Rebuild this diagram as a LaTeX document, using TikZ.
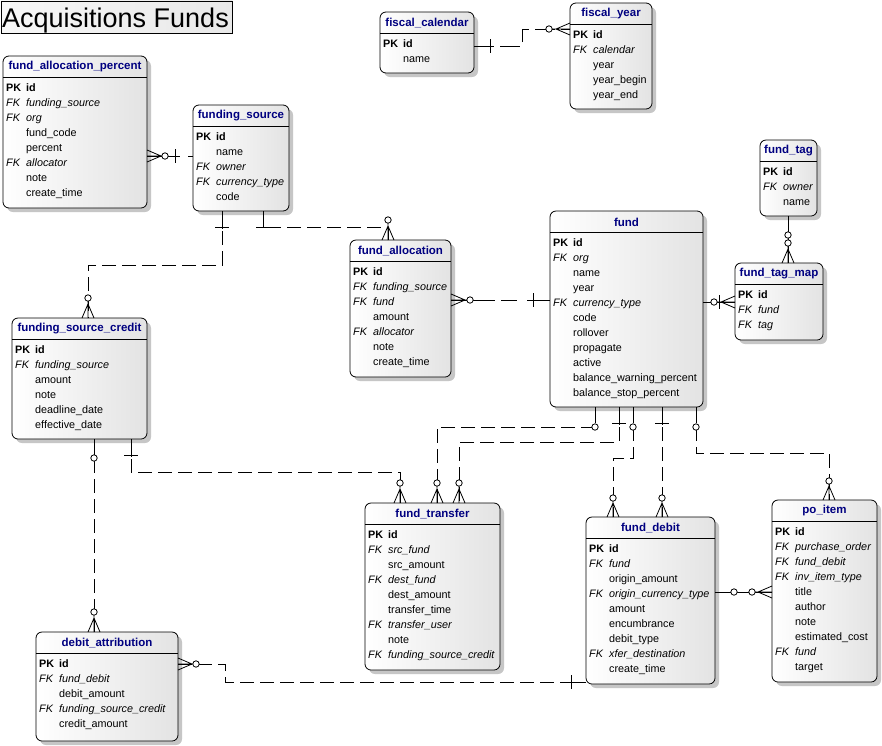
\documentclass[tikz,border=0pt]{standalone}
\usepackage{fontspec}
\setmainfont{Liberation Sans}
\usetikzlibrary{calc}
\definecolor{navy}{HTML}{000080}
\tikzset{
  entbox/.style={draw, line width=0.8pt, rounded corners=6pt, left color=white, right color=gray!22, anchor=north west, inner sep=0pt, outer sep=0pt},
  entshadow/.style={fill=gray!45, rounded corners=6pt},
  enttitle/.style={font=\fontsize{11.5}{13}\selectfont\bfseries, text=navy, inner sep=0pt},
  entrows/.style={anchor=north west, inner sep=0pt, font=\fontsize{10.8}{15}\selectfont},
  rel/.style={line width=0.8pt, dash pattern=on 14pt off 6pt},
  sol/.style={line width=0.8pt},
  ringst/.style={line width=0.8pt, fill=white},
}
\newcommand{\pkrow}[1]{\textbf{PK}&\textbf{#1}\\}
\newcommand{\fkrow}[1]{\textit{FK}&\textit{#1}\\}
\newcommand{\frow}[1]{&#1\\}
% name, x, y, w, h, title, rows
\newcommand{\entity}[7]{%
  \fill[entshadow] (#2+4,#3+4) rectangle ++(#4,#5);
  \node[entbox, minimum width=#4pt, minimum height=#5pt] (#1) at (#2,#3) {};
  \draw[sol] (#2,#3+21) -- ++(#4,0);
  \node[enttitle] (#1-t) at (#2+#4/2,#3+11) {#6};
  \node[entrows] (#1-b) at (#2+3,#3+25) {\begin{tabular}{@{}p{20pt}@{}l@{}}#7\end{tabular}};
}
\newcommand{\ringat}[2]{\draw[ringst] (#1,#2) circle[radius=3.2];}
\newcommand{\crowU}[2]{\draw[sol] (#1,#2-20) -- (#1,#2) (#1-6,#2) -- (#1,#2-14) -- (#1+6,#2);}
\newcommand{\crowL}[2]{\draw[sol] (#1-20,#2) -- (#1,#2) (#1,#2-6) -- (#1-14,#2) -- (#1,#2+6);}
\newcommand{\crowR}[2]{\draw[sol] (#1+20,#2) -- (#1,#2) (#1,#2-6) -- (#1+14,#2) -- (#1,#2+6);}
\newcommand{\hbarat}[2]{\draw[sol] (#1-7,#2) -- (#1+7,#2);}
\newcommand{\vbarat}[2]{\draw[sol] (#1,#2-7) -- (#1,#2+7);}
\begin{document}
\begin{tikzpicture}[x=1pt,y=-1pt]
\useasboundingbox (0,0) rectangle (882,745);
\fill[white] (0,0) rectangle (882,745);

% title
\node[draw, line width=0.8pt, left color=gray!6, right color=gray!18, anchor=north west, minimum width=231.5pt, minimum height=32.5pt, inner sep=0pt] (title) at (0.5,0.5) {};
\node[anchor=base west, inner sep=0pt, font=\fontsize{27}{30}\selectfont] (title-t) at (2,27) {Acquisitions Funds};

% entities (shadows + boxes)
\entity{fap}{3}{56}{144}{152}{fund\_allocation\_percent}{\pkrow{id}\fkrow{funding\_source}\fkrow{org}\frow{fund\_code}\frow{percent}\fkrow{allocator}\frow{note}\frow{create\_time}}
\entity{fs}{193}{105}{96}{106}{funding\_source}{\pkrow{id}\frow{name}\fkrow{owner}\fkrow{currency\_type}\frow{code}}
\entity{fcal}{380}{12}{94}{61}{fiscal\_calendar}{\pkrow{id}\frow{name}}
\entity{fyear}{570}{3}{82}{106}{fiscal\_year}{\pkrow{id}\fkrow{calendar}\frow{year}\frow{year\_begin}\frow{year\_end}}
\entity{ftag}{760}{140}{57}{76}{fund\_tag}{\pkrow{id}\fkrow{owner}\frow{name}}
\entity{ftm}{735}{263}{88}{77}{fund\_tag\_map}{\pkrow{id}\fkrow{fund}\fkrow{tag}}
\entity{fund}{550}{211}{153}{196}{fund}{\pkrow{id}\fkrow{org}\frow{name}\frow{year}\fkrow{currency\_type}\frow{code}\frow{rollover}\frow{propagate}\frow{active}\frow{balance\_warning\_percent}\frow{balance\_stop\_percent}}
\entity{fa}{350}{240}{101}{137}{fund\_allocation}{\pkrow{id}\fkrow{funding\_source}\fkrow{fund}\frow{amount}\fkrow{allocator}\frow{note}\frow{create\_time}}
\entity{fsc}{12}{318}{135}{121}{funding\_source\_credit}{\pkrow{id}\fkrow{funding\_source}\frow{amount}\frow{note}\frow{deadline\_date}\frow{effective\_date}}
\entity{ft}{365}{503}{135}{167}{fund\_transfer}{\pkrow{id}\fkrow{src\_fund}\frow{src\_amount}\fkrow{dest\_fund}\frow{dest\_amount}\frow{transfer\_time}\fkrow{transfer\_user}\frow{note}\fkrow{funding\_source\_credit}}
\entity{fd}{586}{517}{129}{167}{fund\_debit}{\pkrow{id}\fkrow{fund}\frow{origin\_amount}\fkrow{origin\_currency\_type}\frow{amount}\frow{encumbrance}\frow{debit\_type}\fkrow{xfer\_destination}\frow{create\_time}}
\entity{po}{772}{500}{105}{182}{po\_item}{\pkrow{id}\fkrow{purchase\_order}\fkrow{fund\_debit}\fkrow{inv\_item\_type}\frow{title}\frow{author}\frow{note}\frow{estimated\_cost}\fkrow{fund}\frow{target}}
\entity{da}{36}{632}{142}{109}{debit\_attribution}{\pkrow{id}\fkrow{fund\_debit}\frow{debit\_amount}\fkrow{funding\_source\_credit}\frow{credit\_amount}}

% connector end points
\coordinate (c1a) at ($(fap.north east)+(0,100)$);
\coordinate (c1b) at ($(fs.north west)+(0,51)$);
\coordinate (c2a) at ($(fcal.north east)+(0,34)$);
\coordinate (c2b) at ($(fyear.north west)+(0,26)$);
\coordinate (c3a) at ($(fs.south west)+(70,0)$);
\coordinate (c3b) at ($(fa.north west)+(38,0)$);
\coordinate (c4a) at ($(fs.south west)+(29,0)$);
\coordinate (c4b) at ($(fsc.north west)+(76,0)$);
\coordinate (c5a) at ($(fa.north east)+(0,60)$);
\coordinate (c5b) at ($(fund.north west)+(0,89)$);
\coordinate (c6a) at ($(ftag.south west)+(28,0)$);
\coordinate (c6b) at ($(ftm.north west)+(53,0)$);
\coordinate (c7a) at ($(fund.north east)+(0,91)$);
\coordinate (c7b) at ($(ftm.north west)+(0,39)$);
\coordinate (c8a) at ($(fund.south west)+(45,0)$);
\coordinate (c8b) at ($(ft.north west)+(72,0)$);
\coordinate (c9a) at ($(fund.south west)+(69,0)$);
\coordinate (c9b) at ($(ft.north west)+(94,0)$);
\coordinate (c10a) at ($(fund.south west)+(83,0)$);
\coordinate (c10b) at ($(fd.north west)+(27,0)$);
\coordinate (c11a) at ($(fund.south west)+(112,0)$);
\coordinate (c11b) at ($(fd.north west)+(76,0)$);
\coordinate (c12a) at ($(fund.south west)+(146,0)$);
\coordinate (c12b) at ($(po.north west)+(57,0)$);
\coordinate (c13a) at ($(fsc.south west)+(82,0)$);
\coordinate (c13b) at ($(da.north west)+(58,0)$);
\coordinate (c14a) at ($(fsc.south west)+(119,0)$);
\coordinate (c14b) at ($(ft.north west)+(35,0)$);
\coordinate (c15a) at ($(da.north east)+(0,32)$);
\coordinate (c15b) at ($(fd.south west)+(0,-2)$);
\coordinate (c16a) at ($(fd.north east)+(0,75)$);
\coordinate (c16b) at ($(po.north west)+(0,92)$);

% connectors
\draw[rel, dash pattern=on 33pt off 8pt] (c1a) -- (c1b);
\draw[rel, dash pattern=on 20pt off 6pt] (c2a) -- ++(48,0) |- (c2b);
\draw[rel] (c3a) -- ++(0,16) -| (c3b);
\draw[rel] (c4a) -- ++(0,54) -| (c4b);
\draw[rel, dash pattern=on 44pt off 6pt on 16pt off 10pt] (c5a) -- (c5b);
\draw[sol] (c6a) -- (c6b);
\draw[sol] (c7a) -- (c7b);
\draw[rel] (c8a) -- ++(0,20) -| (c8b);
\draw[rel] (c9a) -- ++(0,35) -| (c9b);
\draw[rel] (c10a) -- ++(0,51) -| (c10b);
\draw[rel] (c11a) -- (c11b);
\draw[rel] (c12a) -- ++(0,46) -| (c12b);
\draw[rel] (c13a) -- (c13b);
\draw[rel] (c14a) -- ++(0,33) -| (c14b);
\draw[rel] (c15a) -- ++(47,0) |- (c15b);
\draw[sol] (c16a) -- (c16b);

% solid stubs at the "one" ends
\draw[sol] (c3a) -- ++(0,16);
\draw[sol] (c4a) -- ++(0,18);
\draw[sol] (c8a) -- ++(0,16);
\draw[sol] (c9a) -- ++(0,18);
\draw[sol] (c10a) -- ++(0,16);
\draw[sol] (c11a) -- ++(0,18);
\draw[sol] (c12a) -- ++(0,16);
\draw[sol] (c13a) -- ++(0,16);
\draw[sol] (c14a) -- ++(0,18);
\draw[sol] (c15b) -- ++(-18,0);

% symbols
\crowR{147}{156} \ringat{165}{156} \vbarat{175}{156}
\vbarat{490}{46} \crowL{570}{29} \ringat{549}{29}
\hbarat{263}{227} \crowU{388}{240} \ringat{388}{220}
\hbarat{222}{227} \crowU{88}{318} \ringat{88}{298}
\crowR{451}{300} \ringat{470}{300} \vbarat{533}{300}
\crowU{788}{263} \ringat{788}{235} \ringat{788}{243}
\crowL{735}{302} \vbarat{719}{302} \ringat{714}{302}
\ringat{595}{427} \crowU{437}{503} \ringat{437}{483}
\hbarat{619}{423} \crowU{459}{503} \ringat{459}{483}
\ringat{633}{427} \crowU{613}{517} \ringat{613}{498}
\hbarat{662}{423} \crowU{662}{517} \ringat{662}{498}
\ringat{696}{427} \crowU{829}{500} \ringat{829}{481}
\ringat{94}{458} \crowU{94}{632} \ringat{94}{612}
\hbarat{131}{455} \crowU{400}{503} \ringat{400}{483}
\crowR{178}{664} \ringat{196}{664} \vbarat{571}{682}
\ringat{734}{592} \crowL{772}{592} \ringat{752}{592}
\end{tikzpicture}
\end{document}
